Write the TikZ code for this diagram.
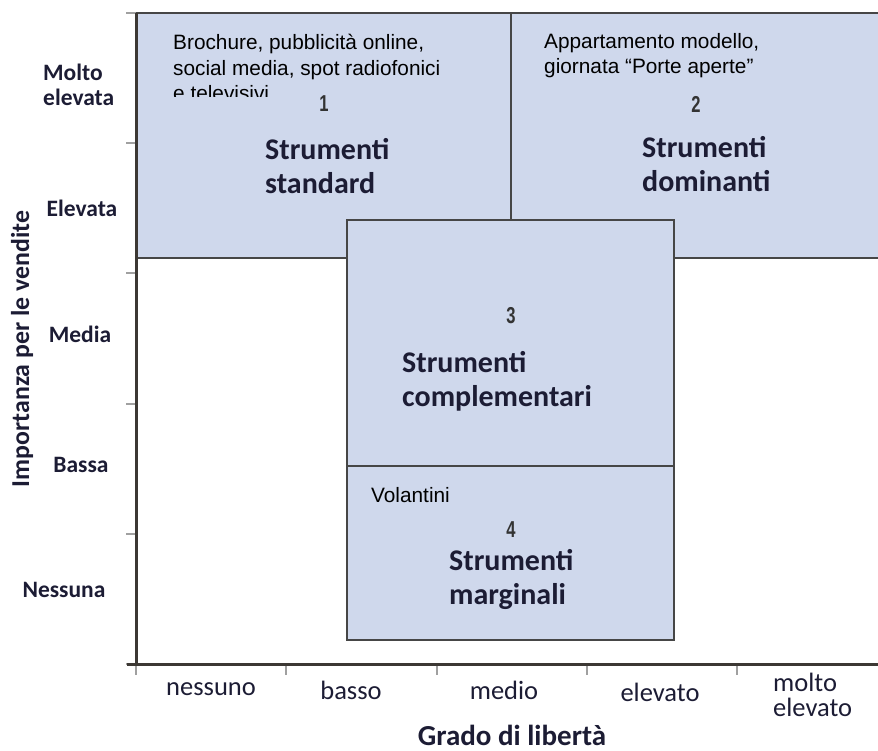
\documentclass[tikz,border=0pt]{standalone}
\usepackage{fontspec}
\setmainfont{Carlito}
\newfontfamily\arialf{Liberation Sans}
\definecolor{boxfill}{RGB}{207,216,236}
\definecolor{boxline}{RGB}{70,70,70}
\definecolor{axisline}{RGB}{60,56,52}
\definecolor{tickgray}{RGB}{160,160,160}
\definecolor{labelcol}{RGB}{28,28,52}
\definecolor{numcol}{RGB}{51,51,51}
\begin{document}
\begin{tikzpicture}[x=1pt,y=-1pt,
  quad/.style={fill=boxfill,draw=boxline,line width=2pt},
  axisst/.style={draw=axisline,line width=3pt},
  tickst/.style={draw=tickgray,line width=2pt},
  ylab/.style={font=\fontsize{23.5}{24.5}\selectfont\bfseries,text=labelcol,inner sep=0pt},
  xlab/.style={font=\fontsize{26.5}{25}\selectfont,text=labelcol,inner sep=0pt},
  strum/.style={font=\fontsize{30}{34}\selectfont\bfseries,text=labelcol,align=left,inner sep=0pt,anchor=west},
  numst/.style={font=\arialf\bfseries\fontsize{23}{24}\selectfont,text=numcol,inner sep=0pt},
  ex/.style={font=\arialf\fontsize{20.8}{25.5}\selectfont,text=black,align=left,inner sep=0pt,anchor=north west}
]
\useasboundingbox (0,0) rectangle (878,751);
% quadrants 1 and 2
\fill[boxfill] (136,13) rectangle (878,258);
\draw[boxline,line width=2pt] (136,13) -- (878,13);
\draw[boxline,line width=2pt] (136,258) -- (878,258);
\draw[boxline,line width=2pt] (511,13) -- (511,220);
% quadrants 3 and 4
\draw[quad] (347,220) rectangle (674,466);
\draw[quad] (347,466) rectangle (674,640);
% ticks
\foreach \yy in {13,143,273,404,534,664} \draw[tickst] (126,\yy) -- (136,\yy);
\foreach \xx in {136,286,437,587,737} \draw[tickst] (\xx,664) -- (\xx,675);
% axes
\draw[axisst] (136,13) -- (136,665.5);
\draw[axisst] (127,664) -- (878,664);
% example texts
\begin{scope}
\clip (140,15) rectangle (505,97);
\node[ex] (t1) at (173,34) {Brochure, pubblicità online,\\social media, spot radiofonici\\e televisivi};
\end{scope}
\node[ex] (t2) at (544,33) {Appartamento modello,\\giornata “Porte aperte”};
\node[ex,anchor=west] (t4) at (371,495) {Volantini};
% numbers
\node[numst] (n1) at (324,104) {\scalebox{0.72}[1]{1}};
\node[numst] (n2) at (696,104) {\scalebox{0.72}[1]{2}};
\node[numst] (n3) at (511,316) {\scalebox{0.72}[1]{3}};
\node[numst] (n4) at (511,530) {\scalebox{0.72}[1]{4}};
% category labels
\node[strum] (s1) at (265,166) {Strumenti\\standard};
\node[strum] (s2) at (642,164) {Strumenti\\dominanti};
\node[strum] (s3) at (402,381) {Strumenti\\complementari};
\node[strum] (s4) at (449,579) {Strumenti\\marginali};
% y labels
\node[ylab,align=left,anchor=west] (ym) at (43,85) {Molto\\elevata};
\node[ylab] (ye) at (82,208) {Elevata};
\node[ylab] (ymd) at (80,334) {Media};
\node[ylab] (yb) at (81,465) {Bassa};
\node[ylab] (yn) at (64,590) {Nessuna};
\node[font=\fontsize{25.8}{26}\selectfont\bfseries,text=labelcol,rotate=90,inner sep=0pt] (ytitle) at (22,349) {Importanza per le vendite};
% x labels
\node[xlab] (x1) at (211,689) {nessuno};
\node[xlab] (x2) at (351,690) {basso};
\node[xlab] (x3) at (504,690) {medio};
\node[xlab] (x4) at (660,692) {elevato};
\node[xlab,align=left,anchor=west] (x5) at (773,695) {molto\\elevato};
\node[font=\fontsize{29}{30}\selectfont\bfseries,text=labelcol,inner sep=0pt] (xtitle) at (512,735) {Grado di libertà};
\end{tikzpicture}
\end{document}
